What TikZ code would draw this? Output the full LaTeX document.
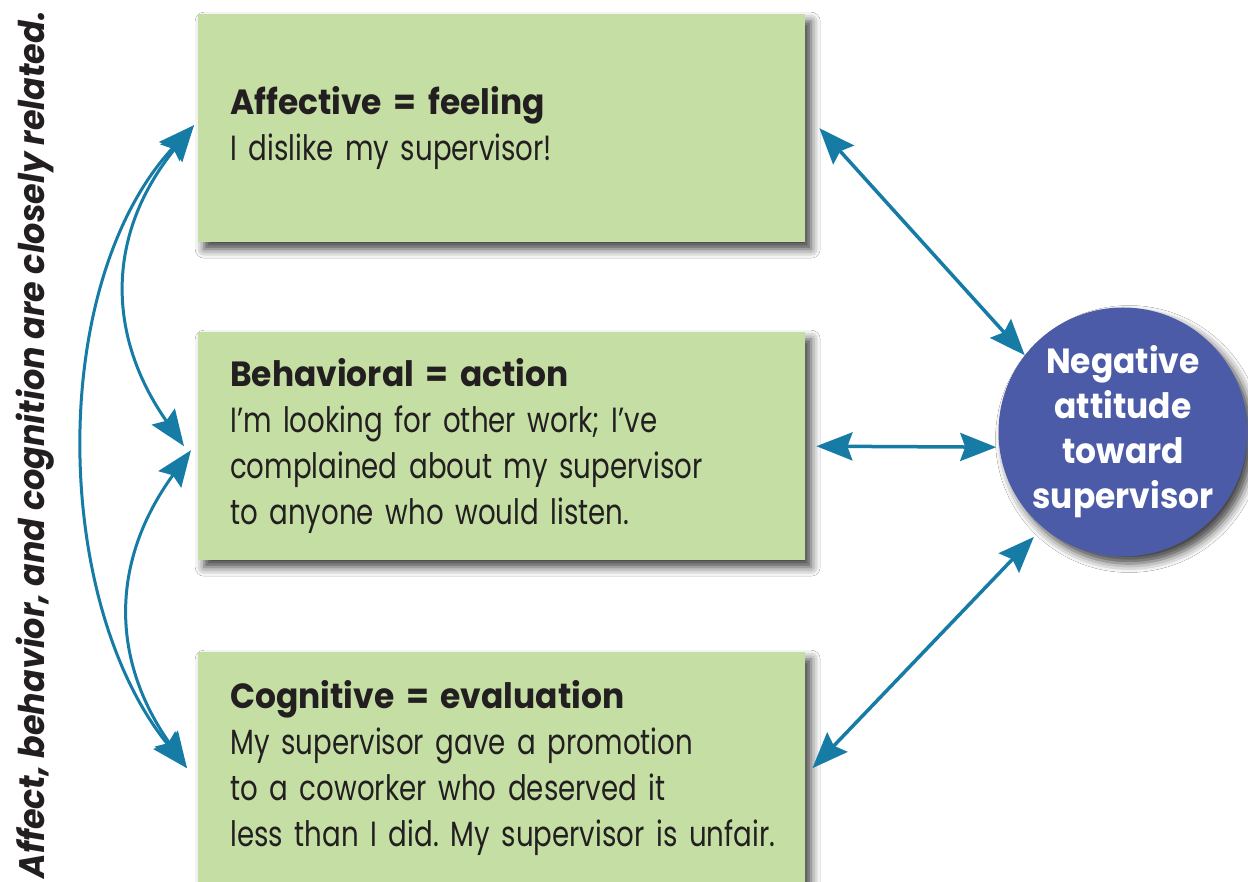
\documentclass[tikz,border=0pt]{standalone}
\usepackage{fontspec}
\setmainfont{Poppins}[FakeStretch=0.79,
  BoldFeatures={FakeStretch=0.94},
  BoldItalicFeatures={FakeStretch=0.94}]
\usetikzlibrary{arrows.meta,shadows.blur}
\definecolor{boxgreen}{RGB}{196,222,164}
\definecolor{attblue}{RGB}{76,91,168}
\definecolor{linkblue}{RGB}{22,124,166}
\definecolor{inktext}{RGB}{35,31,32}
\frenchspacing

\begin{document}
\begin{tikzpicture}[x=1pt,y=-1pt,
  softshadow/.style={blur shadow={shadow xshift=6pt, shadow yshift=-7pt,
      shadow blur radius=9pt, shadow opacity=75}},
  compbox/.style={rectangle, fill=boxgreen, minimum width=607pt,
      minimum height=228pt, text width=607pt, inner xsep=0pt, inner ysep=0pt,
      align=left, anchor=north west, text=inktext,
      execute at begin node={\leftskip=32pt\relax},
      font=\fontsize{35}{46}\selectfont, softshadow},
  attitude/.style={circle, fill=attblue, minimum size=240pt, inner sep=0pt,
      text=white, align=center, font=\bfseries\fontsize{35}{45}\selectfont,
      softshadow},
  linkhead/.tip={Stealth[length=36pt, width=28pt, inset=5pt]},
  biarrow/.style={draw=linkblue, line width=3.5pt, linkhead-linkhead},
  curvearrow/.style={draw=linkblue, line width=3pt, linkhead-linkhead},
]
% canvas
\fill[white] (0,0) rectangle (1248,882);
\useasboundingbox (0,0) rectangle (1248,882);

% the three components of an attitude
\node[compbox] (aff) at (198,14)
  {{\bfseries Affective = feeling}\\I dislike my supervisor!};
\node[compbox] (beh) at (198,332)
  {{\bfseries Behavioral = action}\\I’m looking for other work; I’ve\\complained about my supervisor\\to anyone who would listen.};
\node[compbox, minimum height=232pt] (cog) at (198,652)
  {{\bfseries Cognitive = evaluation}\\My supervisor gave a promotion\\to a coworker who deserved it\\less than I did. My supervisor is unfair.};

% the attitude itself
\node[attitude] (neg) at (1123,432) {Negative\\attitude\\toward\\supervisor};

% side caption
\node[rotate=90, text=inktext, inner sep=0pt,
      font=\bfseries\itshape\fontsize{35.5}{36}\selectfont] (note) at (35,445)
  {Affect, behavior, and cognition are closely related.};

% links between each component and the attitude
\draw[biarrow] ([xshift=14pt]aff.east) -- (neg.142);
\draw[biarrow, shorten >=3pt] ([xshift=11pt]beh.east) -- (neg.187);
\draw[biarrow, shorten >=13pt] ([xshift=7pt]cog.east) -- (neg.230);

% links among the components
\coordinate (tA)  at ([xshift=-4pt,yshift=3pt]aff.west);
\coordinate (tB1) at ([xshift=-14pt]beh.west);
\coordinate (tB2) at ([xshift=-7pt,yshift=-4pt]beh.west);
\coordinate (tC)  at ([xshift=-11pt]cog.west);

\draw[curvearrow] (tA) .. controls +(227:215pt) and +(129:215pt) .. (tC);
\draw[curvearrow] (tA) .. controls +(231:141pt) and +(125:135pt) .. (tB1);
\draw[curvearrow] (tB2) .. controls +(234:137pt) and +(125:134pt) .. (tC);
\end{tikzpicture}
\end{document}
